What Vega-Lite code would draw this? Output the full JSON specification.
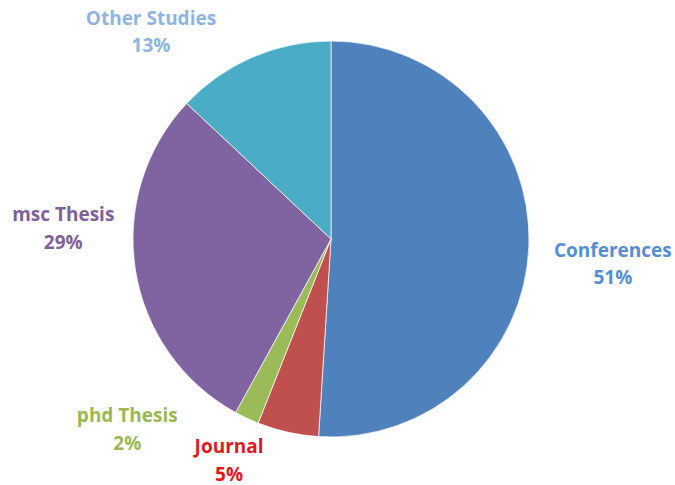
{
  "$schema": "https://vega.github.io/schema/vega-lite/v6.json",
  "width": 662,
  "height": 478,
  "autosize": {"type": "none"},
  "padding": {"left": 0, "top": 0, "right": 13, "bottom": 7},
  "background": "white",
  "data": {"values": [
    {"category": "Conferences", "value": 51, "rank": 1},
    {"category": "Journal", "value": 5, "rank": 2},
    {"category": "phd Thesis", "value": 2, "rank": 3},
    {"category": "msc Thesis", "value": 29, "rank": 4},
    {"category": "Other Studies", "value": 13, "rank": 5}
  ]},
  "transform": [
    {"stack": "value", "groupby": [], "sort": [{"field": "rank", "order": "ascending"}], "as": ["t0", "t1"]},
    {"calculate": "(datum.t0 + datum.t1) / 2", "as": "tm"},
    {"calculate": "[datum.category, datum.value + '%']", "as": "label"}
  ],
  "layer": [
    {
      "mark": {"type": "arc", "radius": 198, "stroke": "#ffffff", "strokeWidth": 0.7},
      "encoding": {
        "theta": {"field": "t0", "type": "quantitative", "scale": {"domain": [0, 100]}},
        "theta2": {"field": "t1"},
        "color": {"field": "category", "type": "nominal", "legend": null,
          "scale": {"domain": ["Conferences", "Journal", "phd Thesis", "msc Thesis", "Other Studies"],
                    "range": ["#4F81BD", "#C0504D", "#9BBB59", "#8064A2", "#4BACC6"]}}
      }
    },
    {
      "transform": [{"filter": "datum.category === 'Conferences'"}],
      "mark": {"type": "text", "radius": 282, "dx": 0, "dy": 3, "font": "Open Sans", "fontWeight": "bold", "fontSize": 19, "lineHeight": 27.5, "color": "#558ED5", "align": "center", "baseline": "middle"},
      "encoding": {"theta": {"field": "tm", "type": "quantitative"}, "text": {"field": "label"}}
    },
    {
      "transform": [{"filter": "datum.category === 'Journal'"}],
      "mark": {"type": "text", "radius": 238, "dx": -50, "dy": -24, "font": "Open Sans", "fontWeight": "bold", "fontSize": 19, "lineHeight": 27.5, "color": "#E0191F", "align": "center", "baseline": "middle"},
      "encoding": {"theta": {"field": "tm", "type": "quantitative"}, "text": {"field": "label"}}
    },
    {
      "transform": [{"filter": "datum.category === 'phd Thesis'"}],
      "mark": {"type": "text", "radius": 260, "dx": -93, "dy": -58, "font": "Open Sans", "fontWeight": "bold", "fontSize": 19, "lineHeight": 27.5, "color": "#98B954", "align": "center", "baseline": "middle"},
      "encoding": {"theta": {"field": "tm", "type": "quantitative"}, "text": {"field": "label"}}
    },
    {
      "transform": [{"filter": "datum.category === 'msc Thesis'"}],
      "mark": {"type": "text", "radius": 263, "dx": -8, "dy": -65, "font": "Open Sans", "fontWeight": "bold", "fontSize": 19, "lineHeight": 27.5, "color": "#7F6199", "align": "center", "baseline": "middle"},
      "encoding": {"theta": {"field": "tm", "type": "quantitative"}, "text": {"field": "label"}}
    },
    {
      "transform": [{"filter": "datum.category === 'Other Studies'"}],
      "mark": {"type": "text", "radius": 262, "dx": -76, "dy": 20, "font": "Open Sans", "fontWeight": "bold", "fontSize": 19, "lineHeight": 27.5, "color": "#8EB4E3", "align": "center", "baseline": "middle"},
      "encoding": {"theta": {"field": "tm", "type": "quantitative"}, "text": {"field": "label"}}
    }
  ],
  "config": {"view": {"stroke": null}}
}
